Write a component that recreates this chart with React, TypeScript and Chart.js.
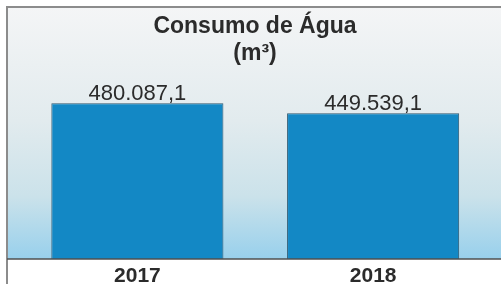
import React, { useEffect, useRef } from "react";
import { Chart, registerables } from "chart.js";

Chart.register(...registerables);

const categories = ["2017", "2018"];
const consumo = [480087.1, 449539.1];
const titleLines = ["Consumo de Água", "(m³)"];

function formatPtBR(v: number): string {
  const fixed = v.toFixed(1);
  const [intPart, dec] = fixed.split(".");
  const withDots = intPart.replace(/\B(?=(\d{3})+(?!\d))/g, ".");
  return withDots + "," + dec;
}

const framePlugin = {
  id: "frame",
  beforeDraw(chart: any) {
    const { ctx, chartArea, width } = chart;
    const left = chartArea.left - 12.5;
    const top = chartArea.top + 1;
    const bottom = chartArea.bottom;
    ctx.save();
    const g = ctx.createLinearGradient(0, top, 0, bottom);
    g.addColorStop(0, "#f4f5f6");
    g.addColorStop(0.45, "#e2ebee");
    g.addColorStop(0.75, "#cbe2ea");
    g.addColorStop(1, "#98d0ec");
    ctx.fillStyle = g;
    ctx.fillRect(left, top, width - left, bottom - top);
    ctx.strokeStyle = "#8c8c8c";
    ctx.lineWidth = 2;
    ctx.beginPath();
    ctx.moveTo(left, chart.height);
    ctx.lineTo(left, top);
    ctx.lineTo(width, top);
    ctx.stroke();
    ctx.fillStyle = "#2b2b2b";
    ctx.textAlign = "center";
    ctx.textBaseline = "alphabetic";
    ctx.font = "bold 23px 'Liberation Sans', Arial, sans-serif";
    const cx = (left + width) / 2 + 1;
    ctx.fillText(titleLines[0], cx, top + 26);
    ctx.fillText(titleLines[1], cx, top + 52.5);
    ctx.restore();
  },
  afterDatasetsDraw(chart: any) {
    const { ctx, chartArea, width } = chart;
    const left = chartArea.left - 12.5;
    ctx.save();
    ctx.strokeStyle = "#4f4f4f";
    ctx.lineWidth = 1.5;
    ctx.beginPath();
    ctx.moveTo(left, chartArea.bottom);
    ctx.lineTo(width, chartArea.bottom);
    ctx.stroke();
    const meta = chart.getDatasetMeta(0);
    ctx.fillStyle = "#2b2b2b";
    ctx.textAlign = "center";
    ctx.textBaseline = "alphabetic";
    ctx.font = "22px 'Liberation Sans', Arial, sans-serif";
    meta.data.forEach((bar: any, i: number) => {
      ctx.fillText(formatPtBR(consumo[i]), bar.x, bar.y - 3);
    });
    ctx.restore();
  },
};

export default function App() {
  const ref = useRef<HTMLCanvasElement>(null);
  useEffect(() => {
    document.body.style.margin = "0";
    const chart = new Chart(ref.current!, {
      type: "bar",
      data: {
        labels: categories,
        datasets: [
          {
            data: consumo,
            backgroundColor: "#1388c5",
            borderColor: "#2e5870",
            borderWidth: 1,
            barPercentage: 0.73,
            categoryPercentage: 1,
          },
        ],
      },
      options: {
        animation: false,
        responsive: false,
        maintainAspectRatio: false,
        layout: { padding: { left: 19.5, right: 10, top: 6, bottom: 0 } },
        plugins: { legend: { display: false }, title: { display: false }, tooltip: { enabled: false } },
        scales: {
          x: {
            grid: { display: false, drawTicks: false },
            border: { display: false },
            afterFit: (scale: any) => {
              scale.height = 25;
            },
            ticks: {
              padding: 7,
              color: "#2b2b2b",
              font: { family: "'Liberation Sans', Arial, sans-serif", size: 21, weight: "bold", lineHeight: 1 },
            },
          },
          y: { display: false, min: 0, max: 780000 },
        },
      },
      plugins: [framePlugin],
    });
    return () => chart.destroy();
  }, []);
  return <canvas ref={ref} width={501} height={284} style={{ display: "block" }} />;
}
